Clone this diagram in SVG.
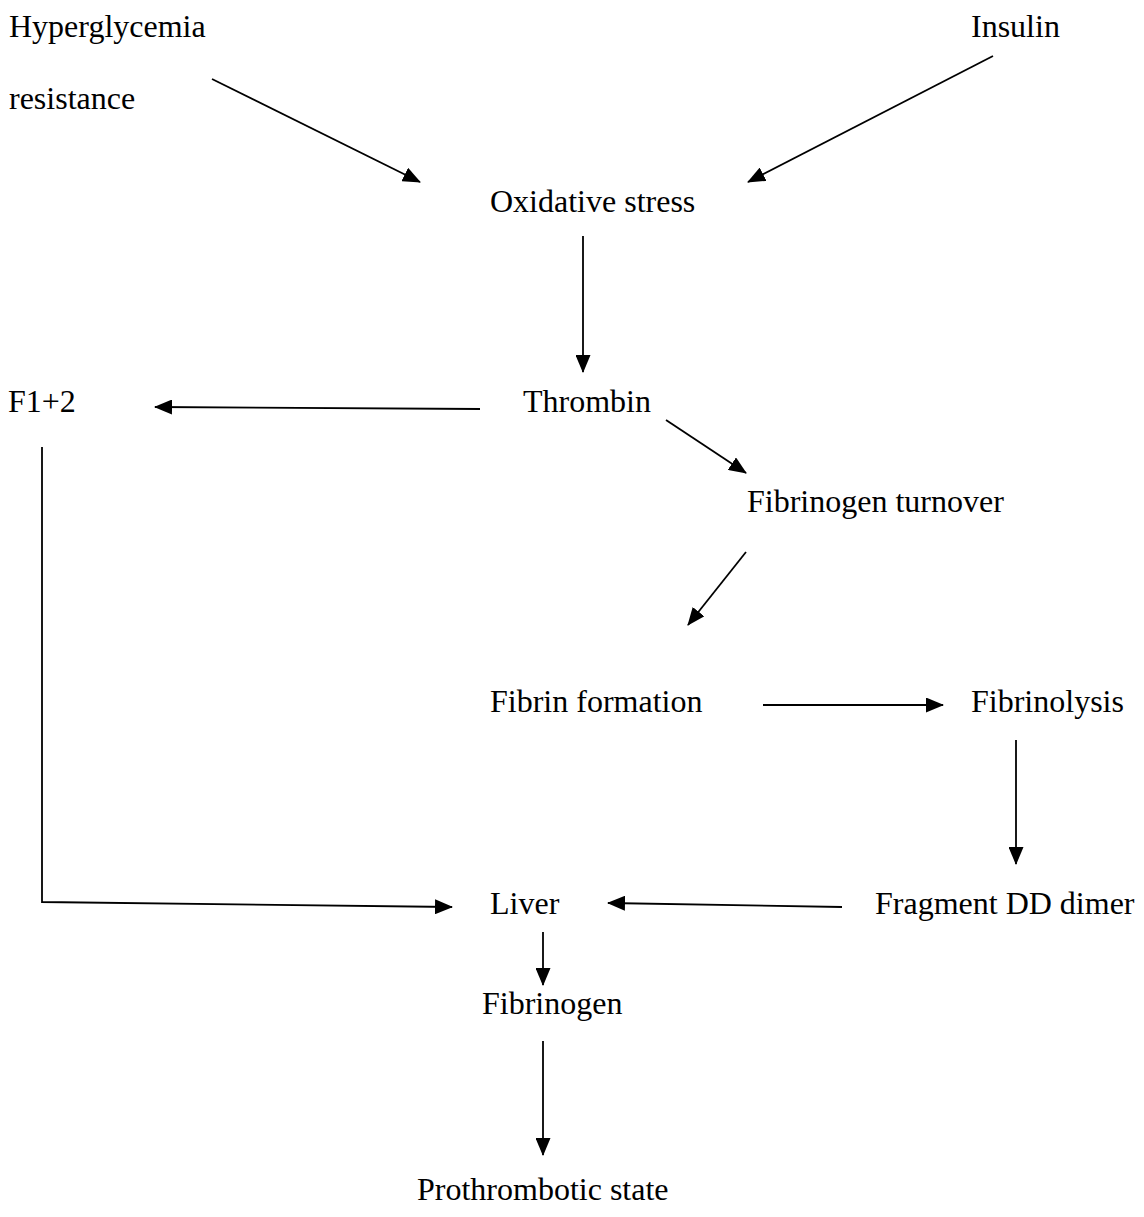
<svg xmlns="http://www.w3.org/2000/svg" width="1144" height="1217" viewBox="0 0 1144 1217">
<style>
text{font-family:"Liberation Serif","Times New Roman",serif;font-size:32px;fill:#000}
.c line,.c polyline{stroke:#000;stroke-width:1.8;fill:none;marker-end:url(#ah)}
</style>
<defs>
<marker id="ah" markerUnits="userSpaceOnUse" markerWidth="18" markerHeight="15" viewBox="0 0 18 15" refX="17" refY="7.5" orient="auto">
<path d="M0,0 L18,7.5 L0,15 Z" fill="#000"/>
</marker>
</defs>
<rect width="1144" height="1217" fill="#fff"/>
<g id="hyperglycemia"><text x="9" y="37">Hyperglycemia</text><text x="9" y="109">resistance</text></g>
<g id="insulin"><text x="971" y="37">Insulin</text></g>
<g id="oxidative"><text x="490" y="212">Oxidative stress</text></g>
<g id="thrombin"><text x="523" y="412">Thrombin</text></g>
<g id="f12"><text x="8" y="412">F1+2</text></g>
<g id="fibturn"><text x="747" y="512">Fibrinogen turnover</text></g>
<g id="fibform"><text x="490" y="712">Fibrin formation</text></g>
<g id="fibrinolysis"><text x="971" y="712">Fibrinolysis</text></g>
<g id="ddimer"><text x="875" y="914">Fragment DD dimer</text></g>
<g id="liver"><text x="490" y="914">Liver</text></g>
<g id="fibrinogen"><text x="482" y="1014">Fibrinogen</text></g>
<g id="prothrombotic"><text x="417" y="1200">Prothrombotic state</text></g>
<g class="c" id="connectors">
<line x1="212" y1="79" x2="420" y2="182"/>
<line x1="993" y1="56" x2="748" y2="182"/>
<line x1="583" y1="236" x2="583" y2="372"/>
<line x1="480" y1="409" x2="155" y2="407"/>
<line x1="666" y1="420" x2="746" y2="473"/>
<line x1="746" y1="552" x2="688" y2="625"/>
<line x1="763" y1="705" x2="943" y2="705"/>
<line x1="1016" y1="740" x2="1016" y2="864"/>
<polyline points="42,447 42,902 452,907"/>
<line x1="842" y1="907" x2="608" y2="903"/>
<line x1="543" y1="932" x2="543" y2="985"/>
<line x1="543" y1="1041" x2="543" y2="1155"/>
</g>
</svg>
